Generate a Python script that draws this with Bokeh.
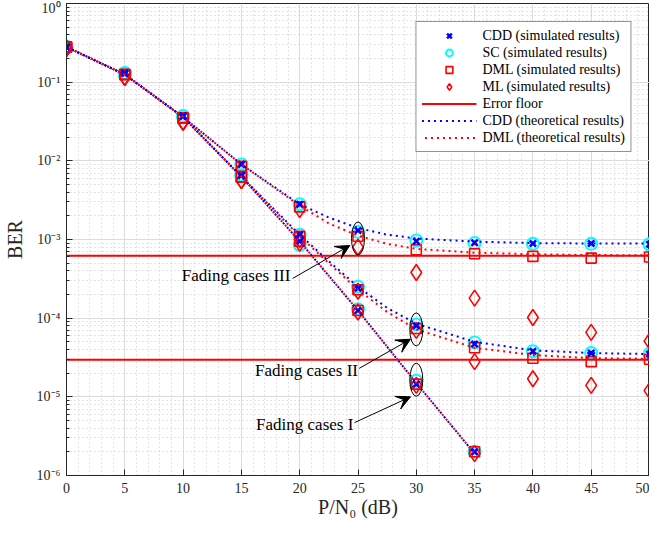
from bokeh.plotting import figure
from bokeh.models import (ColumnDataSource, Legend, LegendItem, Arrow, VeeHead,
                          SingleIntervalTicker, LogTicker, CustomJSTickFormatter, Range1d)
from bokeh.core.properties import value
from bokeh.embed import file_html
from bokeh.resources import INLINE

# ---------------- data ----------------
snr = [0, 5, 10, 15, 20, 25, 30, 35, 40, 45, 50]
snr_I = [0, 5, 10, 15, 20, 25, 30, 35]

# Fading cases III (highest floor)
cdd_III = [0.28, 0.13, 0.037, 9.0e-3, 2.8e-3, 1.3e-3, 9.5e-4, 9.1e-4, 8.9e-4, 8.9e-4, 8.7e-4]
sc_III = [0.28, 0.13, 0.037, 9.0e-3, 2.8e-3, 1.25e-3, 9.7e-4, 9.0e-4, 8.8e-4, 8.8e-4, 8.7e-4]
dml_III = [0.28, 0.125, 0.035, 8.5e-3, 2.6e-3, 1.1e-3, 7.4e-4, 6.6e-4, 6.1e-4, 5.8e-4, 6.0e-4]
ml_III = [0.27, 0.115, 0.031, 7.8e-3, 2.4e-3, 8.0e-4, 3.8e-4, 1.8e-4, 1.02e-4, 6.6e-5, 5.1e-5]

# Fading cases II
cdd_II = [0.28, 0.13, 0.037, 6.5e-3, 1.15e-3, 2.4e-4, 8.0e-5, 4.7e-5, 3.8e-5, 3.6e-5, 3.5e-5]
sc_II = [0.28, 0.13, 0.037, 6.5e-3, 1.15e-3, 2.5e-4, 8.3e-5, 4.9e-5, 3.8e-5, 3.6e-5, 3.5e-5]
dml_II = [0.28, 0.125, 0.035, 6.2e-3, 1.1e-3, 2.3e-4, 7.4e-5, 4.2e-5, 3.1e-5, 2.8e-5, 3.0e-5]
ml_II = [0.27, 0.115, 0.031, 5.6e-3, 1.0e-3, 2.2e-4, 7.0e-5, 2.8e-5, 1.7e-5, 1.4e-5, 1.2e-5]

# Fading cases I (no floor)
cdd_I = [0.28, 0.13, 0.037, 6.5e-3, 9.5e-4, 1.25e-4, 1.45e-5, 2.0e-6]
sc_I = [0.28, 0.13, 0.037, 6.5e-3, 8.5e-4, 1.3e-4, 1.6e-5, 2.0e-6]
dml_I = [0.28, 0.125, 0.035, 6.2e-3, 9.5e-4, 1.25e-4, 1.45e-5, 2.0e-6]
ml_I = [0.27, 0.115, 0.031, 5.6e-3, 9.0e-4, 1.2e-4, 1.4e-5, 1.9e-6]

# Error floors
snr_floor = [0, 50]
floor_III = [6.2e-4, 6.2e-4]
floor_II = [2.97e-5, 2.97e-5]

# Theoretical curves
snr_th = [0, 5, 10, 15, 20, 22.5, 25, 27.5, 30, 35, 40, 45, 50]
cdd_th_III = [0.28, 0.125, 0.036, 9.0e-3, 2.8e-3, 1.9e-3, 1.4e-3, 1.15e-3, 1.03e-3, 9.4e-4, 9.0e-4, 8.9e-4, 8.9e-4]
dml_th_III = [0.28, 0.125, 0.036, 9.0e-3, 2.7e-3, 1.6e-3, 1.12e-3, 8.8e-4, 7.6e-4, 6.8e-4, 6.5e-4, 6.35e-4, 6.3e-4]
cdd_th_II = [0.28, 0.125, 0.036, 6.3e-3, 1.15e-3, 5.3e-4, 2.5e-4, 1.35e-4, 8.5e-5, 5.0e-5, 3.9e-5, 3.6e-5, 3.5e-5]
dml_th_II = [0.28, 0.125, 0.036, 6.3e-3, 1.1e-3, 5.0e-4, 2.3e-4, 1.2e-4, 7.2e-5, 4.2e-5, 3.4e-5, 3.1e-5, 3.05e-5]
snr_th_I = [0, 5, 10, 15, 20, 25, 30, 35]
cdd_th_I = [0.28, 0.125, 0.036, 6.3e-3, 9.5e-4, 1.25e-4, 1.5e-5, 1.9e-6]
dml_th_I = [0.28, 0.125, 0.036, 6.3e-3, 9.5e-4, 1.25e-4, 1.5e-5, 1.9e-6]

# Annotations
case_labels = ["Fading cases III", "Fading cases II", "Fading cases I"]
label_x = [19.2, 25.0, 24.6]
label_y = [3.45e-4, 2.15e-5, 4.4e-6]
arrow_x0 = [19.4, 25.1, 24.7]
arrow_y0 = [3.2e-4, 2.3e-5, 4.7e-6]
arrow_x1 = [24.3, 29.5, 29.5]
arrow_y1 = [8.4e-4, 5.4e-5, 1.0e-5]
ell_x = [25, 30, 30]
ell_y = [1.03e-3, 7.2e-5, 1.65e-5]

FONT = "Liberation Serif"
TXT = "#262626"

p = figure(width=649, height=520, output_backend="svg", toolbar_location=None,
           y_axis_type="log", x_range=Range1d(0, 50), y_range=Range1d(1e-6, 1),
           min_border_left=62, min_border_right=0, min_border_top=3, min_border_bottom=40)
p.outline_line_color = TXT
p.outline_line_width = 1
p.background_fill_color = "white"

# axes
p.xaxis.ticker = SingleIntervalTicker(interval=5, num_minor_ticks=5)
p.yaxis.ticker = LogTicker(num_minor_ticks=10)
p.yaxis.formatter = CustomJSTickFormatter(code="""
const sup = {'0':'\u2070','1':'\u00b9','2':'\u00b2','3':'\u00b3','4':'\u2074','5':'\u2075','6':'\u2076','7':'\u2077','8':'\u2078','9':'\u2079','-':'\u207b'};
const e = Math.round(Math.log10(tick));
return '10' + String(e).split('').map(c => sup[c]).join('');
""")
for ax in (p.xaxis[0], p.yaxis[0]):
    ax.axis_line_color = TXT
    ax.major_tick_line_color = TXT
    ax.major_tick_in = 6
    ax.major_tick_out = 0
    ax.minor_tick_in = 3
    ax.minor_tick_out = 0
    ax.minor_tick_line_color = TXT
    ax.major_label_text_font = FONT
    ax.major_label_text_font_size = "14px"
    ax.major_label_text_color = TXT
    ax.axis_label_text_font = FONT
    ax.axis_label_text_font_size = "20px"
    ax.axis_label_text_font_style = "normal"
    ax.axis_label_text_color = TXT
p.xaxis.minor_tick_line_color = None
p.xaxis.axis_label = "P/N\u2080 (dB)"
p.yaxis.axis_label = "BER"
p.xaxis.major_label_standoff = 7
p.xaxis.axis_label_standoff = 0
p.yaxis.major_label_standoff = 6
p.yaxis.axis_label_standoff = 8

# grids
for g in (p.xgrid[0], p.ygrid[0]):
    g.grid_line_color = "#dcdcdc"
    g.grid_line_width = 1
    g.minor_grid_line_color = "#c8c8c8"
    g.minor_grid_line_dash = "1 3"
    g.minor_grid_line_width = 1

# simulated markers (all cases combined per scheme)
x_all = snr + snr + snr_I
src_sc = ColumnDataSource(dict(x=x_all, y=sc_III + sc_II + sc_I))
src_dml = ColumnDataSource(dict(x=x_all, y=dml_III + dml_II + dml_I))
src_ml = ColumnDataSource(dict(x=x_all, y=ml_III + ml_II + ml_I))
src_cdd = ColumnDataSource(dict(x=x_all, y=cdd_III + cdd_II + cdd_I))

r_sc = p.scatter("x", "y", source=src_sc, marker="circle", size=12, fill_color=None,
                 line_color="#00ffff", line_width=2)
r_dml = p.scatter("x", "y", source=src_dml, marker="square", size=10, fill_color=None,
                  line_color="#ff0000", line_width=1.6)
r_ml = p.scatter("x", "y", source=src_ml, marker="diamond", size=16, fill_color=None,
                 line_color="#ff0000", line_width=1.6)
r_cdd = p.scatter("x", "y", source=src_cdd, marker="x", size=9, line_color="#0000ff",
                  line_width=2.5)

# error floors
r_f3 = p.line(snr_floor, floor_III, line_color="#ff0000", line_width=2)
p.line(snr_floor, floor_II, line_color="#ff0000", line_width=2)

# theoretical curves
dash = "2 4"
r_tc = p.line(snr_th, cdd_th_III, line_color="#0000ff", line_width=2, line_dash=dash)
p.line(snr_th, cdd_th_II, line_color="#0000ff", line_width=2, line_dash=dash)
p.line(snr_th_I, cdd_th_I, line_color="#0000ff", line_width=2, line_dash=dash)
r_td = p.line(snr_th, dml_th_III, line_color="#ff0000", line_width=2, line_dash=dash, line_dash_offset=3)
p.line(snr_th, dml_th_II, line_color="#ff0000", line_width=2, line_dash=dash, line_dash_offset=3)
p.line(snr_th_I, dml_th_I, line_color="#ff0000", line_width=2, line_dash=dash, line_dash_offset=3)

# annotations
p.ellipse(x=ell_x, y=ell_y, width=13, height=33, width_units="screen", height_units="screen",
          fill_color=None, line_color="black", line_width=1)
p.text(x=label_x, y=label_y, text=case_labels, text_font=value(FONT), text_font_size="17px",
       text_align="right", text_baseline="middle", text_color="black")
for i in range(len(case_labels)):
    p.add_layout(Arrow(end=VeeHead(size=14, fill_color="black", line_color="black", line_width=1),
                       x_start=arrow_x0[i], y_start=arrow_y0[i], x_end=arrow_x1[i], y_end=arrow_y1[i],
                       line_color="black", line_width=1))

legend = Legend(items=[
    LegendItem(label="CDD (simulated results)", renderers=[r_cdd]),
    LegendItem(label="SC (simulated results)", renderers=[r_sc]),
    LegendItem(label="DML (simulated results)", renderers=[r_dml]),
    LegendItem(label="ML (simulated results)", renderers=[r_ml]),
    LegendItem(label="Error floor", renderers=[r_f3]),
    LegendItem(label="CDD (theoretical results)", renderers=[r_tc]),
    LegendItem(label="DML (theoretical results)", renderers=[r_td]),
], location="top_right")
legend.margin = 18
legend.padding = 5
legend.spacing = 0
legend.glyph_width = 55
legend.glyph_height = 17
legend.label_height = 17
legend.label_standoff = 6
legend.label_text_font = FONT
legend.label_text_font_size = "14px"
legend.label_text_color = "black"
legend.border_line_color = TXT
legend.border_line_width = 1
legend.background_fill_alpha = 1
p.add_layout(legend)

open("out.html", "w").write(file_html(p, INLINE))
